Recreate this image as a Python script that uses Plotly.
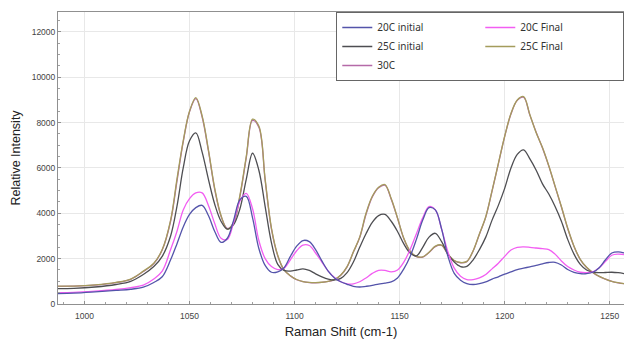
import plotly.graph_objects as go

# Raman shift sample positions (cm-1)
shift = [987, 995, 1005, 1015, 1022, 1028, 1033, 1037, 1041, 1044, 1047, 1050, 1053, 1056,
         1059, 1062, 1065, 1068, 1071, 1074, 1077, 1080, 1083, 1086, 1089, 1092, 1095, 1098,
         1101, 1104, 1107, 1110, 1113, 1116, 1119, 1122, 1125, 1128, 1131, 1134, 1137, 1140,
         1143, 1146, 1149, 1152, 1155, 1158, 1161, 1164, 1167, 1170, 1173, 1176, 1179, 1182,
         1185, 1188, 1191, 1194, 1197, 1200, 1203, 1206, 1209, 1212, 1215, 1218, 1221, 1224,
         1227, 1230, 1233, 1236, 1239, 1242, 1245, 1248, 1251, 1254, 1257]

c20_initial = [460, 480, 535, 600, 650, 740, 950, 1200, 1950, 2650, 3400, 3950, 4250, 4350,
               3900, 3200, 2720, 2900, 3700, 4600, 4750, 3800, 2450, 1700, 1400, 1420, 1600, 2100,
               2550, 2800, 2750, 2400, 1900, 1450, 1150, 980, 870, 780, 750, 780, 820, 880,
               920, 980, 1150, 1550, 2100, 2850, 3700, 4250, 4150, 3300, 2100, 1350, 1050, 900,
               860, 900, 980, 1100, 1200, 1320, 1420, 1520, 1580, 1640, 1700, 1770, 1830, 1840,
               1720, 1520, 1400, 1340, 1340, 1400, 1600, 1950, 2250, 2300, 2250]

c20_final = [495, 510, 565, 640, 720, 830, 1100, 1450, 2400, 3200, 4150, 4650, 4900, 4900,
             4350, 3550, 2900, 2850, 3600, 4550, 4880, 4200, 2800, 2000, 1650, 1520, 1580, 1950,
             2350, 2600, 2580, 2250, 1850, 1450, 1170, 980, 890, 890, 980, 1150, 1350, 1480,
             1480, 1420, 1500, 1850, 2400, 3100, 3800, 4300, 4150, 3300, 2300, 1580, 1220, 1080,
             1080, 1150, 1300, 1550, 1800, 2100, 2380, 2500, 2520, 2500, 2470, 2440, 2400, 2200,
             1900, 1650, 1500, 1400, 1380, 1420, 1600, 1880, 2150, 2200, 2180]

c25_initial = [680, 690, 750, 860, 1000, 1300, 1650, 2100, 3000, 4300, 6000, 7200, 7550, 6700,
               5500, 4400, 3650, 3300, 3500, 4200, 5500, 6650, 5900, 4300, 2700, 1750, 1480, 1450,
               1500, 1550, 1480, 1330, 1200, 1100, 1060, 1130, 1380, 1850, 2500, 3100, 3600, 3900,
               3950, 3650, 3200, 2650, 2250, 2120, 2500, 2950, 3120, 2750, 2200, 1850, 1650, 1660,
               1950, 2400, 2950, 3700, 4350, 5100, 6000, 6600, 6800, 6400, 5900, 5300, 4850, 4300,
               3650, 2850, 2200, 1750, 1500, 1400, 1380, 1390, 1400, 1380, 1340]

c25_final = [790, 790, 840, 950, 1100, 1450, 1800, 2400, 3700, 5500, 7200, 8500, 9100, 8300,
             6800, 5100, 3900, 3300, 3600, 4800, 6500, 8150, 7850, 5500, 3350, 2150, 1500, 1250,
             1080, 990, 950, 940, 960, 1000, 1080, 1280, 1650, 2300, 2950, 4000, 4750, 5150,
             5270, 4650, 3800, 2900, 2330, 2100, 2080, 2280, 2550, 2600, 2200, 1920, 1830, 1880,
             2350, 3100, 3850, 5000, 6200, 7400, 8400, 9000, 9150, 8350, 7550, 6900, 6100, 5200,
             4300, 3350, 2550, 1970, 1620, 1390, 1220, 1100, 1000, 940, 900]

c30 = [780, 785, 830, 940, 1090, 1430, 1780, 2380, 3650, 5400, 7150, 8480, 9060, 8250,
       6750, 5050, 3870, 3330, 3580, 4750, 6450, 8100, 7800, 5450, 3300, 2120, 1500, 1240,
       1070, 985, 945, 935, 955, 995, 1075, 1270, 1640, 2290, 2930, 3950, 4720, 5130,
       5240, 4620, 3780, 2880, 2320, 2090, 2070, 2270, 2530, 2580, 2190, 1910, 1820, 1870,
       2340, 3080, 3830, 4980, 6180, 7380, 8380, 8980, 9120, 8330, 7580, 6880, 6080, 5180,
       4280, 3330, 2540, 1960, 1610, 1380, 1215, 1095, 995, 935, 895]

x_ticks = [1000, 1050, 1100, 1150, 1200, 1250]
y_ticks = [0, 2000, 4000, 6000, 8000, 10000, 12000]

series = [
    # name, values, colour, legend rank
    ("30C", c30, "#b56aa8", 5),
    ("25C Final", c25_final, "#a49c5c", 4),
    ("25C initial", c25_initial, "#4e4e52", 3),
    ("20C Final", c20_final, "#f25ef2", 2),
    ("20C initial", c20_initial, "#5454aa", 1),
]

fig = go.Figure()
for name, vals, col, rank in series:
    fig.add_trace(go.Scatter(
        x=shift, y=vals, name=name, mode="lines",
        line=dict(color=col, width=1.3, shape="spline", smoothing=1.0),
        legendrank=rank,
    ))

fig.update_layout(
    width=624, height=340,
    margin=dict(l=58, r=0, t=12, b=36, autoexpand=False),
    paper_bgcolor="white", plot_bgcolor="white",
    font=dict(family="Liberation Sans, Arial, sans-serif", color="#333333"),
    showlegend=True,
    legend=dict(
        orientation="h", x=1.0005, xanchor="right", y=1, yanchor="top",
        entrywidth=98, entrywidthmode="pixels",
        bgcolor="white", bordercolor="#666666", borderwidth=1,
        font=dict(family="Noto Sans", size=10, color="#333333"),
        tracegroupgap=0,
    ),
)

fig.update_xaxes(
    range=[987.4, 1256.8],
    tickvals=x_ticks, ticktext=[str(v) for v in x_ticks],
    tickfont=dict(size=8.5, color="#444444"),
    showgrid=True, gridcolor="#e8e8e8", gridwidth=1,
    showline=True, linecolor="#909090", linewidth=1, mirror=True,
    ticks="inside", ticklen=3, tickcolor="#909090",
    minor=dict(dtick=10, tick0=1000, ticks="inside", ticklen=2, tickcolor="#a0a0a0", showgrid=False),
    ticklabelstandoff=4,
    zeroline=False,
    automargin=False,
    title=dict(text="Raman Shift (cm-1)", font=dict(size=13, color="#222222"), standoff=6),
)

fig.update_yaxes(
    range=[0, 12880],
    tickvals=y_ticks, ticktext=[str(v) for v in y_ticks],
    tickfont=dict(size=8.5, color="#444444"),
    showgrid=True, gridcolor="#e8e8e8", gridwidth=1,
    showline=True, linecolor="#909090", linewidth=1,
    ticks="inside", ticklen=3, tickcolor="#909090",
    minor=dict(dtick=500, ticks="inside", ticklen=2, tickcolor="#a0a0a0", showgrid=False),
    zeroline=False,
    automargin=False,
    title=dict(text="Relative Intensity", font=dict(size=12.5, color="#222222"), standoff=8),
)

fig.write_html(
    "out.html",
    config={"displayModeBar": False},
    post_script="document.body.style.margin='0';document.body.style.padding='0';",
)
